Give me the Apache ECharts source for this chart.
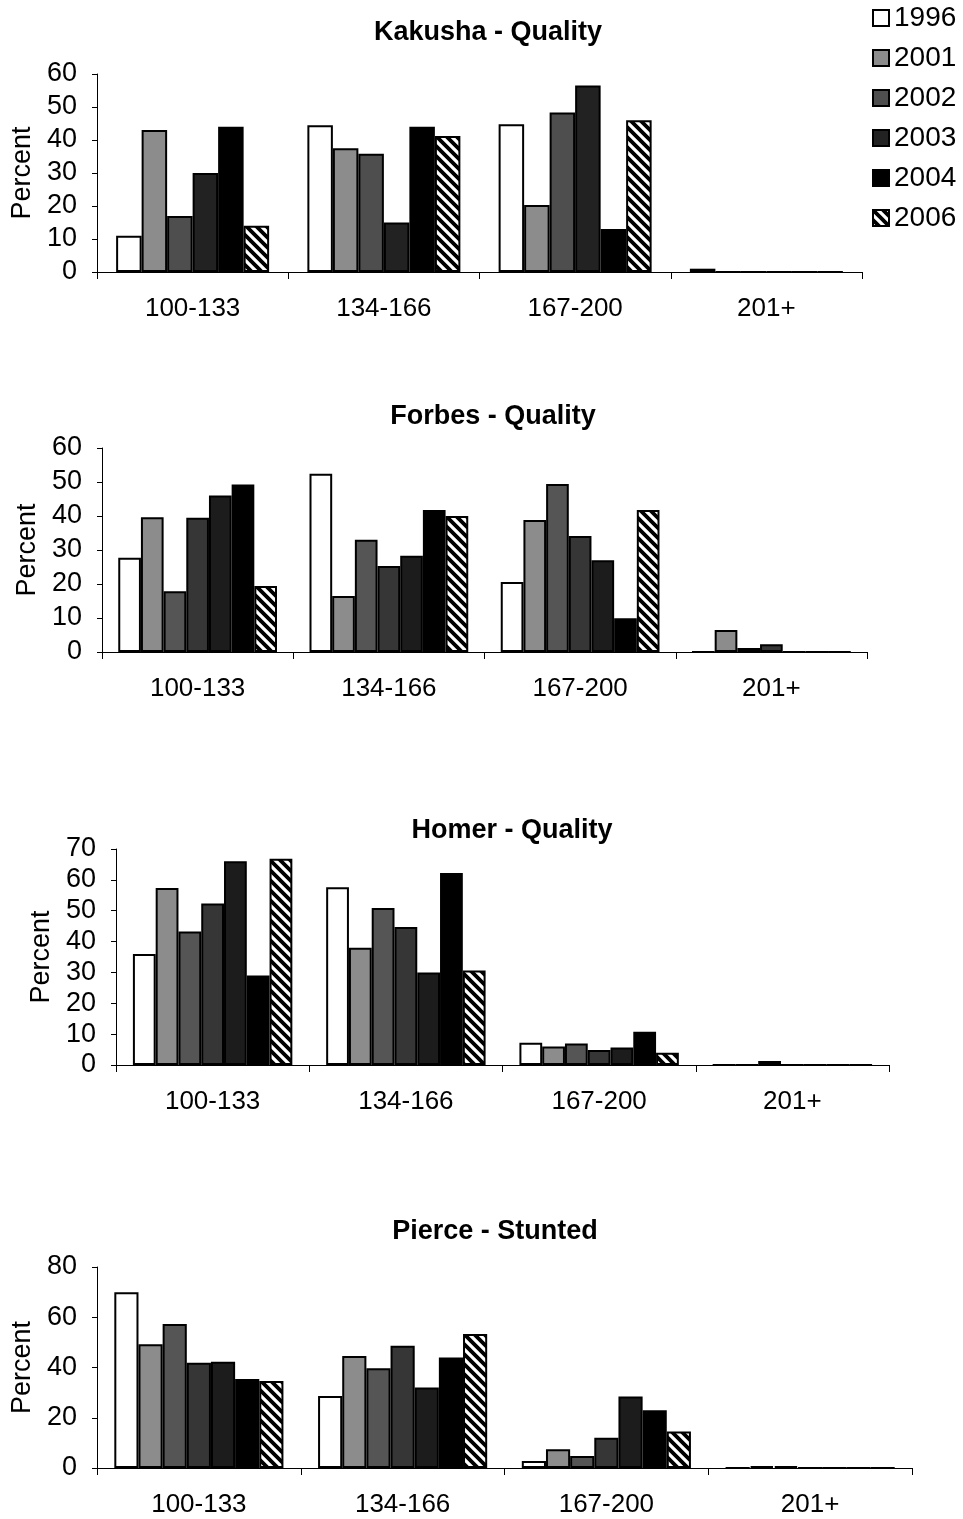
<!DOCTYPE html>
<html>
<head>
<meta charset="utf-8">
<script src="https://cdn.jsdelivr.net/npm/echarts@6/dist/echarts.min.js"></script>
<style>
html,body{margin:0;padding:0;background:#fff;}
#c{width:963px;height:1519px;}
</style>
</head>
<body>
<div id="c"></div>
<script>
// ---------- DATA ----------
const categories = ['100-133', '134-166', '167-200', '201+'];
const legendYears = ['1996', '2001', '2002', '2003', '2004', '2006'];

// Kakusha - Quality
const kakusha1996 = [11, 44.5, 44.8, 1];
const kakusha2001 = [43, 37.5, 20.3, 0];
const kakusha2002 = [17, 35.8, 48.3, 0];
const kakusha2003 = [30, 15, 56.5, 0];
const kakusha2004 = [44, 44, 13, 0];
const kakusha2006 = [14, 41.2, 46, 0];

// Forbes - Quality
const forbes1996 = [27.7, 52.4, 20.6, 0];
const forbes2001 = [39.6, 16.5, 38.8, 6.5];
const forbes2002 = [17.9, 33, 49.4, 1.2];
const forbes2003 = [39.5, 25.3, 34.1, 2.3];
const forbes2004 = [46, 28.3, 27, 0];
const forbes2005 = [49.3, 41.8, 9.9, 0];
const forbes2006 = [19.4, 40, 41.8, 0];

// Homer - Quality
const homer1996 = [36, 57.6, 7.2, 0];
const homer2001 = [57.4, 38, 6, 0];
const homer2002 = [43.3, 50.9, 7, 1.3];
const homer2003 = [52.3, 44.7, 4.9, 0];
const homer2004 = [66, 30, 5.7, 0];
const homer2005 = [29, 62.2, 10.8, 0];
const homer2006 = [66.8, 30.6, 4, 0];

// Pierce - Stunted
const pierce1996 = [70, 28.7, 2.8, 0];
const pierce2001 = [49.3, 44.6, 7.5, 0.7];
const pierce2002 = [57.3, 39.7, 4.8, 0.7];
const pierce2003 = [41.9, 48.7, 12, 0];
const pierce2004 = [42.3, 32, 28.5, 0];
const pierce2005 = [35.4, 44, 23, 0];
const pierce2006 = [34.6, 53.3, 14.5, 0];

// ---------- STYLE ----------
const FONT = "'Liberation Sans', Arial, sans-serif";
function hatch() {
  const s = 10;
  const c = document.createElement('canvas');
  c.width = s; c.height = s;
  const g = c.getContext('2d');
  g.fillStyle = '#fff'; g.fillRect(0, 0, s, s);
  g.strokeStyle = '#000'; g.lineWidth = 3.8;
  g.beginPath();
  for (const k of [-s, 0, s]) { g.moveTo(k - 3, -3); g.lineTo(k + s + 3, s + 3); }
  g.stroke();
  return c;
}
const HATCH = { image: hatch(), repeat: 'repeat' };
const col6 = { '1996': '#ffffff', '2001': '#8c8c8c', '2002': '#4e4e4e', '2003': '#222222', '2004': '#000000', '2006': HATCH };
const col7 = { '1996': '#ffffff', '2001': '#8c8c8c', '2002': '#555555', '2003': '#363636', '2004': '#1c1c1c', '2005': '#000000', '2006': HATCH };

const panels = [
  { title: 'Kakusha - Quality', tx: 483, ty: 14, grid: { left: 97, top: 74, width: 765, height: 198 }, max: 60, interval: 10, gap: '20%', colors: col6,
    series: [['1996', kakusha1996], ['2001', kakusha2001], ['2002', kakusha2002], ['2003', kakusha2003], ['2004', kakusha2004], ['2006', kakusha2006]] },
  { title: 'Forbes - Quality', tx: 488, ty: 398, grid: { left: 102, top: 448, width: 765, height: 204 }, max: 60, interval: 10, gap: '17%', colors: col7,
    series: [['1996', forbes1996], ['2001', forbes2001], ['2002', forbes2002], ['2003', forbes2003], ['2004', forbes2004], ['2005', forbes2005], ['2006', forbes2006]] },
  { title: 'Homer - Quality', tx: 507, ty: 812, grid: { left: 116, top: 849, width: 773, height: 216 }, max: 70, interval: 10, gap: '17.5%', colors: col7,
    series: [['1996', homer1996], ['2001', homer2001], ['2002', homer2002], ['2003', homer2003], ['2004', homer2004], ['2005', homer2005], ['2006', homer2006]] },
  { title: 'Pierce - Stunted', tx: 490, ty: 1213, grid: { left: 97, top: 1267, width: 815, height: 201 }, max: 80, interval: 20, gap: '17%', colors: col7,
    series: [['1996', pierce1996], ['2001', pierce2001], ['2002', pierce2002], ['2003', pierce2003], ['2004', pierce2004], ['2005', pierce2005], ['2006', pierce2006]] }
];

const option = {
  animation: false,
  backgroundColor: '#fff',
  textStyle: { fontFamily: FONT, color: '#000' },
  title: [], grid: [], xAxis: [], yAxis: [], series: [],
  legend: {
    data: legendYears, orient: 'vertical', left: 872, top: 4, padding: 0,
    itemWidth: 16, itemHeight: 16, itemGap: 12, itemTextGap: 5, icon: 'rect',
    textStyle: { fontFamily: FONT, fontSize: 28, color: '#000', lineHeight: 28 },
    selectedMode: false
  }
};

panels.forEach((p, i) => {
  option.title.push({ text: p.title, left: p.tx, top: p.ty, textAlign: 'center',
    textStyle: { fontFamily: FONT, fontSize: 27, fontWeight: 'bold', color: '#000' } });
  option.grid.push(Object.assign({ containLabel: false }, p.grid));
  option.xAxis.push({ gridIndex: i, type: 'category', data: categories,
    axisLine: { lineStyle: { color: '#000', width: 1 } },
    axisTick: { show: true, length: 7, lineStyle: { color: '#000' } },
    axisLabel: { color: '#000', fontSize: 26, margin: 24, fontFamily: FONT } });
  option.yAxis.push({ gridIndex: i, type: 'value', min: 0, max: p.max, interval: p.interval,
    name: 'Percent', nameLocation: 'middle', nameGap: 60,
    nameTextStyle: { fontFamily: FONT, fontSize: 27, color: '#000' },
    axisLine: { show: true, lineStyle: { color: '#000', width: 1 } },
    axisTick: { show: true, length: 5, lineStyle: { color: '#000' } },
    splitLine: { show: false },
    axisLabel: { color: '#000', fontSize: 27, margin: 20, fontFamily: FONT } });
  p.series.forEach(([name, data]) => {
    option.series.push({ type: 'bar', name: name, xAxisIndex: i, yAxisIndex: i, data: data,
      barGap: '0%', barCategoryGap: p.gap,
      itemStyle: { color: p.colors[name], borderColor: '#000', borderWidth: 2 },
      emphasis: { disabled: true }, silent: true });
  });
});

const chart = echarts.init(document.getElementById('c'), null, { renderer: 'canvas' });
chart.setOption(option);
</script>
</body>
</html>
